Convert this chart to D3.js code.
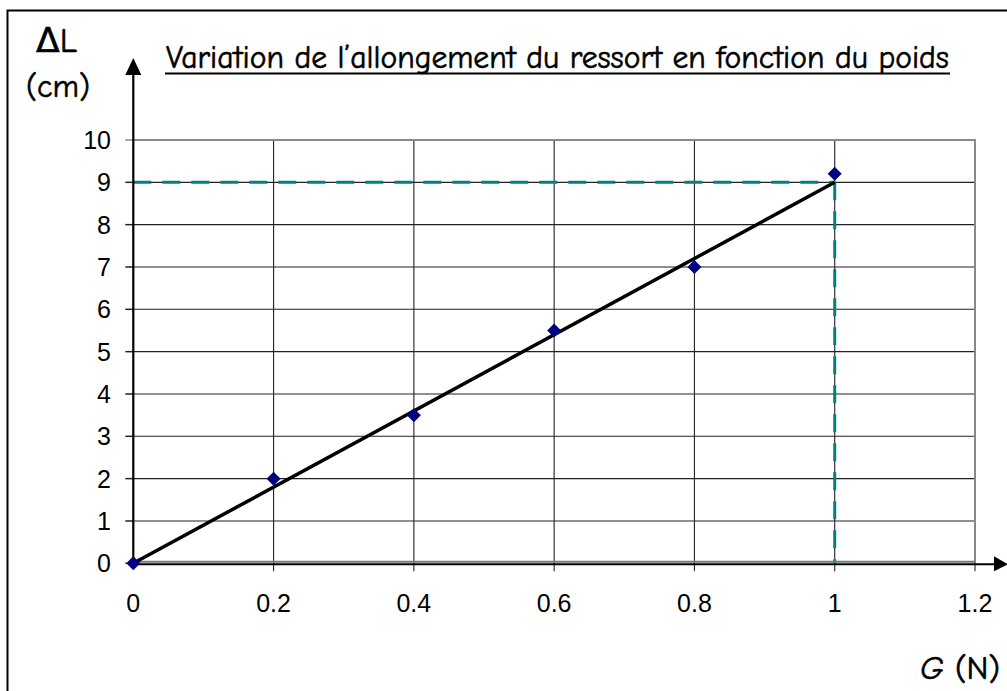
<!DOCTYPE html>
<html>
<head>
<meta charset="utf-8">
<script src="https://cdn.jsdelivr.net/npm/d3@7"></script>
<style>
  body { margin: 0; background: #fff; }
  svg { display: block; }
  .tick-label { font-family: Arial, "Liberation Sans", sans-serif; font-size: 25px; fill: #000; }
  .hand { font-family: "Comic Sans MS", "Comic Neue", "DejaVu Sans", sans-serif; fill: #000; stroke: #000; stroke-width: 0.6px; }
</style>
</head>
<body>
<svg id="chart" width="1007" height="691"></svg>
<script>
// data
let weights = [0, 0.2, 0.4, 0.6, 0.8, 1];          // G (N)
let stretch = [0, 2, 3.5, 5.5, 7, 9.2];           // ΔL (cm)
let trendX = [0, 1];
let trendY = [0, 9];
let xTicks = [0, 0.2, 0.4, 0.6, 0.8, 1, 1.2];
let yTicks = [0, 1, 2, 3, 4, 5, 6, 7, 8, 9, 10];
let readX = 1, readY = 9; // dashed read-off lines

let svg = d3.select('#chart');

let x = d3.scaleLinear().domain([0, 1.2]).range([133.3, 975]);
let y = d3.scaleLinear().domain([0, 10]).range([563.3, 140]);

// outer frame (only left and top show)
svg.append('rect')
  .attr('x', 7.5).attr('y', 10.5)
  .attr('width', 1010).attr('height', 700)
  .attr('fill', 'none').attr('stroke', '#000').attr('stroke-width', 2);

// grid
let grid = svg.append('g');
grid.selectAll('line.h')
  .data(yTicks.filter(d => d > 0 && d < 10))
  .enter().append('line')
  .attr('x1', x(0)).attr('x2', x(1.2))
  .attr('y1', d => y(d)).attr('y2', d => y(d))
  .attr('stroke', '#222').attr('stroke-width', 1.1);
grid.selectAll('line.v')
  .data(xTicks.filter(d => d > 0 && d < 1.2))
  .enter().append('line')
  .attr('x1', d => x(d)).attr('x2', d => x(d))
  .attr('y1', y(10)).attr('y2', y(0) + 8)
  .attr('stroke', '#222').attr('stroke-width', 1.1);

// plot border (grey top and right)
svg.append('path')
  .attr('d', `M${x(0)},${y(10)}H${x(1.2)}V${y(0) + 8}`)
  .attr('fill', 'none').attr('stroke', '#888').attr('stroke-width', 2);

// y tick marks
svg.append('g').selectAll('line')
  .data(yTicks).enter().append('line')
  .attr('x1', x(0) - 8).attr('x2', x(0))
  .attr('y1', d => y(d)).attr('y2', d => y(d))
  .attr('stroke', d => d === 10 ? '#888' : '#222').attr('stroke-width', 1.5);

// dashed read-off lines
let dash = svg.append('g')
  .attr('stroke', '#008080').attr('stroke-width', 3).attr('stroke-dasharray', '18,11').attr('fill', 'none');
dash.append('line')
  .attr('x1', x(0)).attr('x2', x(readX))
  .attr('y1', y(readY)).attr('y2', y(readY));
dash.append('line')
  .attr('x1', x(readX)).attr('x2', x(readX))
  .attr('y1', y(readY)).attr('y2', y(0));

// x axis: grey + black double line, then arrow
svg.append('line')
  .attr('x1', x(0)).attr('x2', x(1.2))
  .attr('y1', y(0) - 1.5).attr('y2', y(0) - 1.5)
  .attr('stroke', '#777').attr('stroke-width', 2);
svg.append('line')
  .attr('x1', x(0)).attr('x2', 995)
  .attr('y1', y(0) + 1).attr('y2', y(0) + 1)
  .attr('stroke', '#000').attr('stroke-width', 2);
svg.append('path')
  .attr('d', `M994,${y(0) - 7}L1008,${y(0) + 1}L994,${y(0) + 8}Z`)
  .attr('fill', '#000');

// y axis with arrow
svg.append('line')
  .attr('x1', x(0)).attr('x2', x(0))
  .attr('y1', y(0) + 1).attr('y2', 72)
  .attr('stroke', '#000').attr('stroke-width', 2.2);
svg.append('path')
  .attr('d', `M${x(0) - 8},75L${x(0)},58L${x(0) + 8},75Z`)
  .attr('fill', '#000');

// tick labels
svg.append('g').selectAll('text')
  .data(yTicks).enter().append('text')
  .attr('class', 'tick-label')
  .attr('x', 111)
  .attr('y', d => y(d) + 9)
  .attr('text-anchor', 'end')
  .text(d => d);
svg.append('g').selectAll('text')
  .data(xTicks).enter().append('text')
  .attr('class', 'tick-label')
  .attr('x', d => x(d))
  .attr('y', 612)
  .attr('text-anchor', 'middle')
  .text(d => d);

// trend line
svg.append('line')
  .attr('x1', x(trendX[0])).attr('y1', y(trendY[0]))
  .attr('x2', x(trendX[1])).attr('y2', y(trendY[1]))
  .attr('stroke', '#000').attr('stroke-width', 3.5);

// diamond markers
svg.append('g').selectAll('path')
  .data(weights.map((w, i) => [w, stretch[i]]))
  .enter().append('path')
  .attr('transform', d => `translate(${x(d[0])},${y(d[1])})`)
  .attr('d', 'M0,-7L7,0L0,7L-7,0Z')
  .attr('fill', '#000080');

// titles and axis names
svg.append('text')
  .attr('class', 'hand')
  .attr('x', 166).attr('y', 68)
  .attr('font-size', 32)
  .attr('textLength', 783).attr('lengthAdjust', 'spacingAndGlyphs')
  .text('Variation de l\u2019allongement du ressort en fonction du poids');
svg.append('line')
  .attr('x1', 165).attr('x2', 950)
  .attr('y1', 73.5).attr('y2', 73.5)
  .attr('stroke', '#000').attr('stroke-width', 2);

svg.append('text')
  .attr('class', 'hand')
  .attr('x', 36).attr('y', 52)
  .attr('font-size', 34)
  .attr('textLength', 41).attr('lengthAdjust', 'spacingAndGlyphs')
  .text('\u0394L');
svg.append('text')
  .attr('class', 'hand')
  .attr('x', 26).attr('y', 97)
  .attr('font-size', 33)
  .attr('textLength', 64).attr('lengthAdjust', 'spacingAndGlyphs')
  .text('(cm)');

let gn = svg.append('text')
  .attr('class', 'hand')
  .attr('x', 920).attr('y', 679)
  .attr('font-size', 32)
  .attr('textLength', 80).attr('lengthAdjust', 'spacingAndGlyphs');
gn.append('tspan').attr('font-style', 'italic').text('G');
gn.append('tspan').text(' (N)');
</script>
</body>
</html>
